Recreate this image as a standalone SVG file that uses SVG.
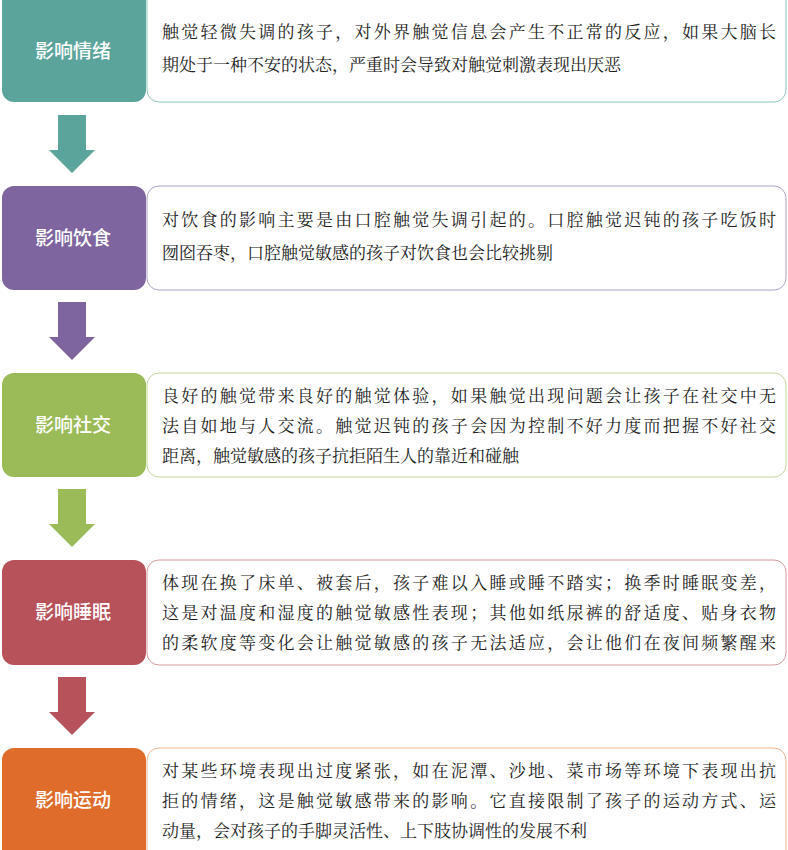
<svg xmlns="http://www.w3.org/2000/svg" width="788" height="850" viewBox="0 0 788 850">
<style>
.lab{font-family:"Noto Sans CJK SC",sans-serif;font-size:19px;fill:#fff;text-anchor:middle;font-weight:500}
.t{font-family:"Noto Serif CJK SC","Noto Sans CJK SC",serif;font-size:17px;fill:#222}
.box{fill:#fff;stroke-width:1}
</style>
<rect width="788" height="850" fill="#fff"/>
<g id="connectors">
<polygon points="58,115 86,115 86,150 95,150 72,173 49,150 58,150" fill="#5BA49C"/>
<polygon points="58,302 86,302 86,337 95,337 72,360 49,337 58,337" fill="#7E65A0"/>
<polygon points="58,489 86,489 86,524 95,524 72,547 49,524 58,524" fill="#9BBB59"/>
<polygon points="58,677 86,677 86,712 95,712 72,735 49,712 58,712" fill="#B8525A"/>
</g>
<g id="n1">
<rect x="2" y="-12" width="144" height="114" rx="12" fill="#5BA49C"/>
<rect x="147" y="-12" width="639" height="114" rx="12" class="box" stroke="#8CC4BE"/>
<text x="73" y="58" class="lab">影响情绪</text>
<text class="t" x="162" y="38" textLength="614">触觉轻微失调的孩子，对外界触觉信息会产生不正常的反应，如果大脑长</text>
<text class="t" x="162" y="71">期处于一种不安的状态，严重时会导致对触觉刺激表现出厌恶</text>
</g>
<g id="n2">
<rect x="2" y="186" width="144" height="104" rx="12" fill="#7E65A0"/>
<rect x="147" y="186" width="639" height="104" rx="12" class="box" stroke="#B0A2C6"/>
<text x="73" y="245" class="lab">影响饮食</text>
<text class="t" x="162" y="226" textLength="614">对饮食的影响主要是由口腔触觉失调引起的。口腔触觉迟钝的孩子吃饭时</text>
<text class="t" x="162" y="259">囫囵吞枣，口腔触觉敏感的孩子对饮食也会比较挑剔</text>
</g>
<g id="n3">
<rect x="2" y="373" width="144" height="104" rx="12" fill="#9BBB59"/>
<rect x="147" y="373" width="639" height="104" rx="12" class="box" stroke="#C4D79B"/>
<text x="73" y="432" class="lab">影响社交</text>
<text class="t" x="162" y="402" textLength="614">良好的触觉带来良好的触觉体验，如果触觉出现问题会让孩子在社交中无</text>
<text class="t" x="162" y="432" textLength="614">法自如地与人交流。触觉迟钝的孩子会因为控制不好力度而把握不好社交</text>
<text class="t" x="162" y="462">距离，触觉敏感的孩子抗拒陌生人的靠近和碰触</text>
</g>
<g id="n4">
<rect x="2" y="560" width="144" height="105" rx="12" fill="#B8525A"/>
<rect x="147" y="560" width="639" height="105" rx="12" class="box" stroke="#D69A9E"/>
<text x="73" y="619" class="lab">影响睡眠</text>
<text class="t" x="162" y="589" textLength="614">体现在换了床单、被套后，孩子难以入睡或睡不踏实；换季时睡眠变差，</text>
<text class="t" x="162" y="619" textLength="614">这是对温度和湿度的触觉敏感性表现；其他如纸尿裤的舒适度、贴身衣物</text>
<text class="t" x="162" y="649" textLength="614">的柔软度等变化会让触觉敏感的孩子无法适应，会让他们在夜间频繁醒来</text>
</g>
<g id="n5">
<rect x="2" y="748" width="144" height="114" rx="12" fill="#E06C2B"/>
<rect x="147" y="748" width="639" height="114" rx="12" class="box" stroke="#E8B48F"/>
<text x="73" y="807" class="lab">影响运动</text>
<text class="t" x="162" y="777" textLength="614">对某些环境表现出过度紧张，如在泥潭、沙地、菜市场等环境下表现出抗</text>
<text class="t" x="162" y="807" textLength="614">拒的情绪，这是触觉敏感带来的影响。它直接限制了孩子的运动方式、运</text>
<text class="t" x="162" y="837">动量，会对孩子的手脚灵活性、上下肢协调性的发展不利</text>
</g>
</svg>
